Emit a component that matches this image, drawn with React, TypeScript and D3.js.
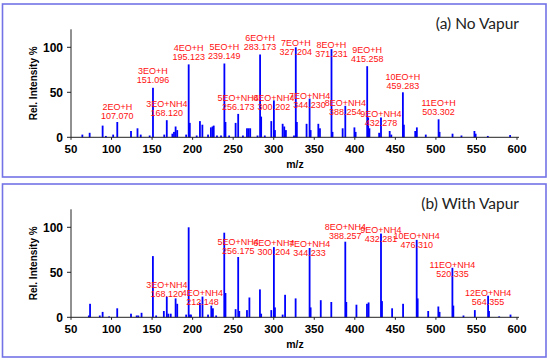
import React from 'react';
import { scaleLinear } from 'd3';

// (a) No Vapur: peak m/z and relative intensity
const topMz = [64, 73, 89, 93, 102, 107.07, 124, 132, 136, 147, 151.096, 165, 168.12, 175, 177, 179, 181, 192,
  195.123, 196.5, 205, 209, 212, 219, 222.5, 224.5, 226, 230, 235, 239.149, 240.5, 245, 253, 256.173, 262,
  267, 269, 271, 280, 283.173, 284.5, 289, 297, 300.202, 301.5, 311, 313, 315, 325, 327.204, 328.5, 340.5,
  344.23, 345.5, 355, 357, 371.231, 372.5, 385, 388.254, 399.5, 401, 415.258, 416.5, 418, 430, 432.278, 443,
  445, 459.283, 460.5, 474.5, 476.5, 487.5, 503.302, 504.5, 520.5, 531.5, 547.5, 549, 564, 591.5];
const topInt = [3, 5, 13, 1.5, 3, 17, 7, 10, 3, 2, 55, 3, 19, 4, 6, 12, 8, 3,
  81, 16, 2, 18, 14, 3, 11, 12, 13, 2, 2, 82, 17, 2, 16, 26, 2,
  10, 10, 10, 2, 92, 23, 2, 18, 41, 8, 15, 12, 8, 2, 100, 17, 15,
  43, 8, 15, 10, 98, 6, 10, 35, 11, 6, 79, 22, 10, 5, 22, 7,
  3, 50, 14, 7, 11, 3, 20, 6, 4, 2, 7, 4, 1.5, 2.5];

// (b) With Vapur
const bottomMz = [72, 73.5, 85.5, 89, 97, 107, 124, 131, 133, 137, 151, 155, 164.5, 168.12, 170, 173, 179, 181,
  192, 195.1, 196.5, 198, 209, 212.148, 219, 223, 225, 229, 239, 240.5, 253, 256.175, 257.5, 267, 270, 283,
  284.5, 297, 300.204, 301.5, 311, 314, 327, 344.233, 345.5, 358, 371, 388.257, 389.5, 402, 415, 417,
  432.281, 433.5, 446, 459.5, 476.31, 477.5, 490.5, 503, 504.5, 520.335, 521.5, 534, 548, 564.355, 565.5,
  578, 592];
const bottomInt = [2, 15, 2, 6, 1, 10, 4, 2, 2, 5, 68, 2, 7, 23, 4, 4, 21, 15,
  3, 100, 3, 3, 16, 23, 3, 13, 10, 2, 94, 27, 9, 67, 7, 8, 22, 31,
  4, 8, 78, 11, 3, 25, 21, 77, 11, 19, 17, 84, 17, 14, 15, 16.5,
  93, 18, 10, 15, 86, 21, 7, 12, 6, 55, 13, 2, 8, 24, 7,
  1, 3];

// peak annotations
const topIons = ['2EO+H', '3EO+H', '3EO+NH4', '4EO+H', '5EO+H', '5EO+NH4', '6EO+H', '6EO+NH4', '7EO+H',
  '7EO+NH4', '8EO+H', '8EO+NH4', '9EO+H', '9EO+NH4', '10EO+H', '11EO+H'];
const topIonMz = ['107.070', '151.096', '168.120', '195.123', '239.149', '256.173', '283.173', '300.202',
  '327.204', '344.230', '371.231', '388.254', '415.258', '432.278', '459.283', '503.302'];
const bottomIons = ['3EO+NH4', '4EO+NH4', '5EO+NH4', '6EO+NH4', '7EO+NH4', '8EO+NH4', '9EO+NH4',
  '10EO+NH4', '11EO+NH4', '12EO+NH4'];
const bottomIonMz = ['168.120', '212.148', '256.175', '300.204', '344.233', '388.257', '432.281',
  '476.310', '520.335', '564.355'];

const xTicks = [50, 100, 150, 200, 250, 300, 350, 400, 450, 500, 550, 600];
const yTicks = [0, 50, 100];

// label nudges (px, baseline of 2nd line vs. bar top) - layout only
const topNudge = [-3, -4.5, -4, -4, -5, -4, -5, 10, 8, 9, 8, 9, -4, 8, -3, -4];
const bottomNudge = [0, 8, -3.5, 8, 8, -3, 8.5, 8.5, 9.5, 9];

const width = 550;
const height = 363;
const xScale = scaleLinear().domain([50, 600]).range([71, 517]);

const Panel = ({ top, mz, ints, ions, ionMz, nudge, title }) => {
  const y0 = top + 133.3;
  const yScale = scaleLinear().domain([0, 120]).range([y0, y0 - 108]);
  const nearest = (m) => {
    let best = 0;
    mz.forEach((v, i) => { if (Math.abs(v - m) < Math.abs(mz[best] - m)) best = i; });
    return ints[best];
  };
  return (
    <g>
      <rect x={2.5} y={top} width={543.5} height={173} fill="white" stroke="#7373e6" strokeWidth={1.6} />
      <text x={519} y={top + 25} textAnchor="end" fontFamily="Lato" fontSize={15.5} fill="#222">{title}</text>
      {/* bars */}
      {mz.map((m, i) => (
        <rect key={i} x={xScale(m) - 0.9} y={yScale(ints[i])} width={1.8}
          height={y0 - yScale(ints[i])} fill="#0000ff" />
      ))}
      {/* axes */}
      <line x1={71} x2={519} y1={y0} y2={y0} stroke="#222" strokeWidth={1} />
      <line x1={71} x2={71} y1={y0} y2={yScale(120)} stroke="#222" strokeWidth={1} />
      {xTicks.map((t) => (
        <g key={t} transform={`translate(${xScale(t)}, ${y0})`}>
          <line y2={2.5} stroke="#222" />
          <text y={15.5} textAnchor="middle" fontFamily="Liberation Sans" fontWeight="bold" fontSize={11.5}>{t}</text>
        </g>
      ))}
      {yTicks.map((t) => (
        <g key={t} transform={`translate(71, ${yScale(t)})`}>
          <line x2={-4} stroke="#222" />
          <text x={-8} dy="0.36em" textAnchor="end" fontFamily="Liberation Sans" fontWeight="bold" fontSize={12}>{t}</text>
        </g>
      ))}
      <text transform={`translate(37, ${yScale(60)}) rotate(-90)`} textAnchor="middle"
        fontFamily="Liberation Sans" fontWeight="bold" fontSize={10}>Rel. Intensity %</text>
      <text x={295} y={y0 + 31} textAnchor="middle" fontFamily="Liberation Sans" fontWeight="bold" fontSize={10.5}>m/z</text>
      {/* annotations */}
      {ions.map((ion, i) => {
        const m = +ionMz[i];
        const yb = yScale(nearest(m)) + nudge[i];
        return (
          <text key={ion} textAnchor="middle" fontFamily="Liberation Sans" fontSize={9} fill="#ff1010">
            <tspan x={xScale(m)} y={yb - 9}>{ion}</tspan>
            <tspan x={xScale(m)} y={yb}>{ionMz[i]}</tspan>
          </text>
        );
      })}
    </g>
  );
};

const App = () => (
  <svg width={width} height={height} viewBox={`0 0 ${width} ${height}`}
    style={{ position: 'absolute', left: 0, top: 0, background: 'white' }}>
    <Panel top={4} mz={topMz} ints={topInt} ions={topIons} ionMz={topIonMz} nudge={topNudge} title="(a) No Vapur" />
    <Panel top={184} mz={bottomMz} ints={bottomInt} ions={bottomIons} ionMz={bottomIonMz} nudge={bottomNudge} title="(b) With Vapur" />
  </svg>
);

export default App;
